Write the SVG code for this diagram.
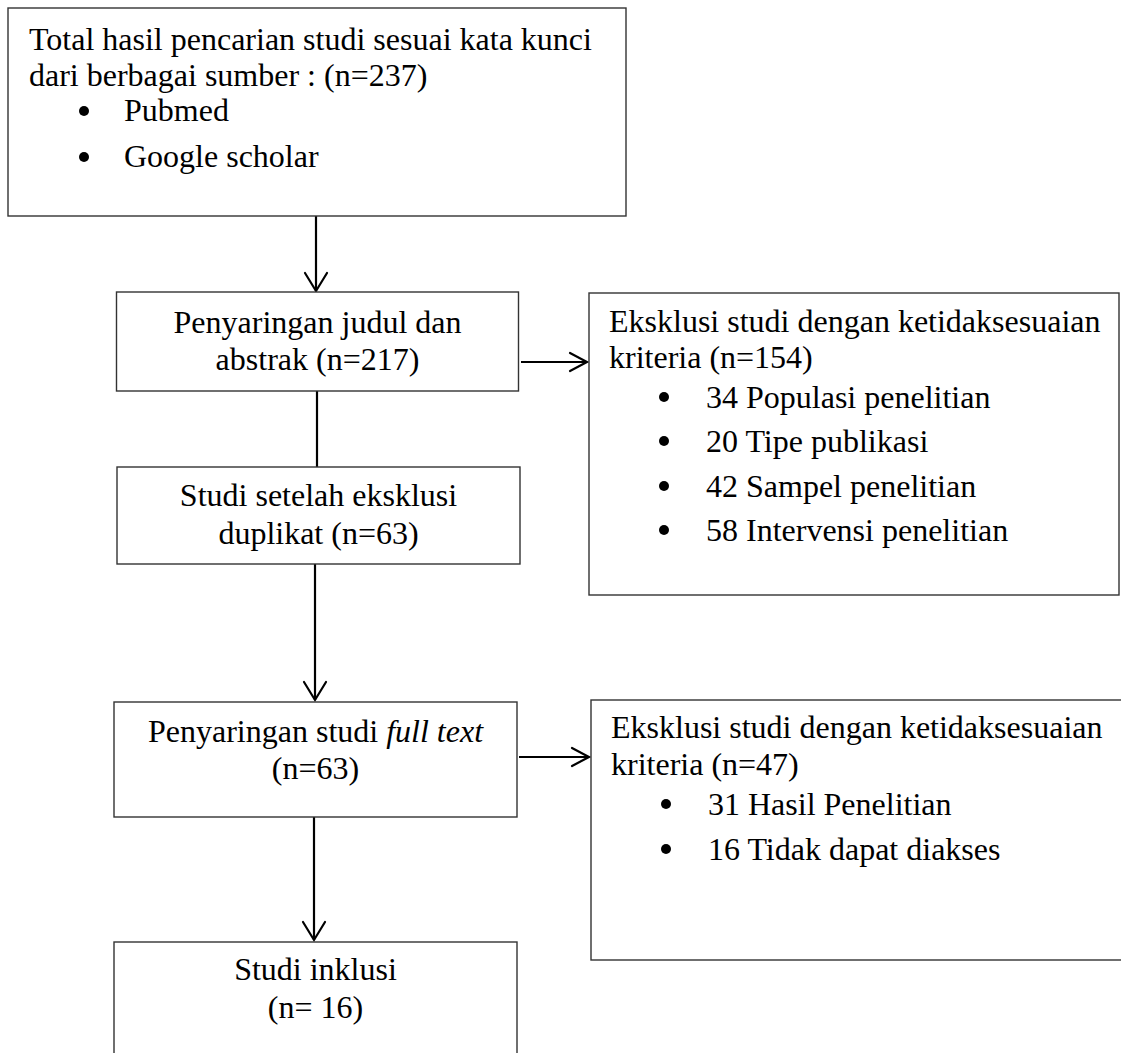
<svg xmlns="http://www.w3.org/2000/svg" width="1121" height="1053" viewBox="0 0 1121 1053">
<defs>
<style>
.box{fill:#fff;stroke:#333;stroke-width:1.4}
.t{font-family:"Liberation Serif","Times New Roman",serif;font-size:32px;fill:#000}
.c{text-anchor:middle}
.conn{stroke:#000;stroke-width:2.2;fill:none}
.head{stroke:#000;stroke-width:2.2;fill:none;stroke-linecap:round;stroke-linejoin:miter}
.b{fill:#000}
</style>
</defs>
<rect x="0" y="0" width="1121" height="1053" fill="#fff"/>
<g id="connectors">
<line class="conn" x1="316" y1="216" x2="316" y2="291"/>
<polyline class="head" points="305,273 316,291 327,273"/>
<line class="conn" x1="317" y1="391" x2="317" y2="467"/>
<line class="conn" x1="315" y1="564" x2="315" y2="700"/>
<polyline class="head" points="304,682 315,700 326,682"/>
<line class="conn" x1="314" y1="817" x2="314" y2="940"/>
<polyline class="head" points="303,922 314,940 325,922"/>
<line class="conn" x1="521" y1="362" x2="587" y2="362"/>
<polyline class="head" points="570,353 587,362 570,371"/>
<line class="conn" x1="519" y1="757" x2="589" y2="757"/>
<polyline class="head" points="572,748 589,757 572,766"/>
</g>
<g id="n-search">
<rect class="box" x="8" y="8" width="618" height="208"/>
<text class="t" x="29" y="50">Total hasil pencarian studi sesuai kata kunci</text>
<text class="t" x="29" y="86">dari berbagai sumber : (n=237)</text>
<circle class="b" cx="84" cy="111" r="5"/>
<text class="t" x="124" y="121">Pubmed</text>
<circle class="b" cx="84" cy="157" r="5"/>
<text class="t" x="124" y="167">Google scholar</text>
</g>
<g id="n-screen">
<rect class="box" x="116.5" y="292" width="402" height="99"/>
<text class="t c" x="317.5" y="333">Penyaringan judul dan</text>
<text class="t c" x="317.5" y="370">abstrak (n=217)</text>
</g>
<g id="n-excl1">
<rect class="box" x="589" y="293" width="530" height="302"/>
<text class="t" x="609" y="332">Eksklusi studi dengan ketidaksesuaian</text>
<text class="t" x="609" y="368">kriteria (n=154)</text>
<circle class="b" cx="664" cy="397" r="5"/>
<text class="t" x="706" y="408">34 Populasi penelitian</text>
<circle class="b" cx="664" cy="441" r="5"/>
<text class="t" x="706" y="452">20 Tipe publikasi</text>
<circle class="b" cx="664" cy="486" r="5"/>
<text class="t" x="706" y="497">42 Sampel penelitian</text>
<circle class="b" cx="664" cy="530" r="5"/>
<text class="t" x="706" y="541">58 Intervensi penelitian</text>
</g>
<g id="n-dedup">
<rect class="box" x="117" y="467" width="403" height="97"/>
<text class="t c" x="318.5" y="506">Studi setelah eksklusi</text>
<text class="t c" x="318.5" y="544">duplikat (n=63)</text>
</g>
<g id="n-fulltext">
<rect class="box" x="114" y="702" width="403" height="115"/>
<text class="t c" x="315.5" y="742">Penyaringan studi <tspan font-style="italic">full text</tspan></text>
<text class="t c" x="315.5" y="779">(n=63)</text>
</g>
<g id="n-excl2">
<rect class="box" x="591" y="700" width="560" height="260"/>
<text class="t" x="611" y="738">Eksklusi studi dengan ketidaksesuaian</text>
<text class="t" x="611" y="775">kriteria (n=47)</text>
<circle class="b" cx="666" cy="804" r="5"/>
<text class="t" x="708" y="815">31 Hasil Penelitian</text>
<circle class="b" cx="666" cy="849" r="5"/>
<text class="t" x="708" y="860">16 Tidak dapat diakses</text>
</g>
<g id="n-incl">
<rect class="box" x="114" y="942" width="403" height="130"/>
<text class="t c" x="315.5" y="980">Studi inklusi</text>
<text class="t c" x="315.5" y="1018">(n= 16)</text>
</g>
</svg>
